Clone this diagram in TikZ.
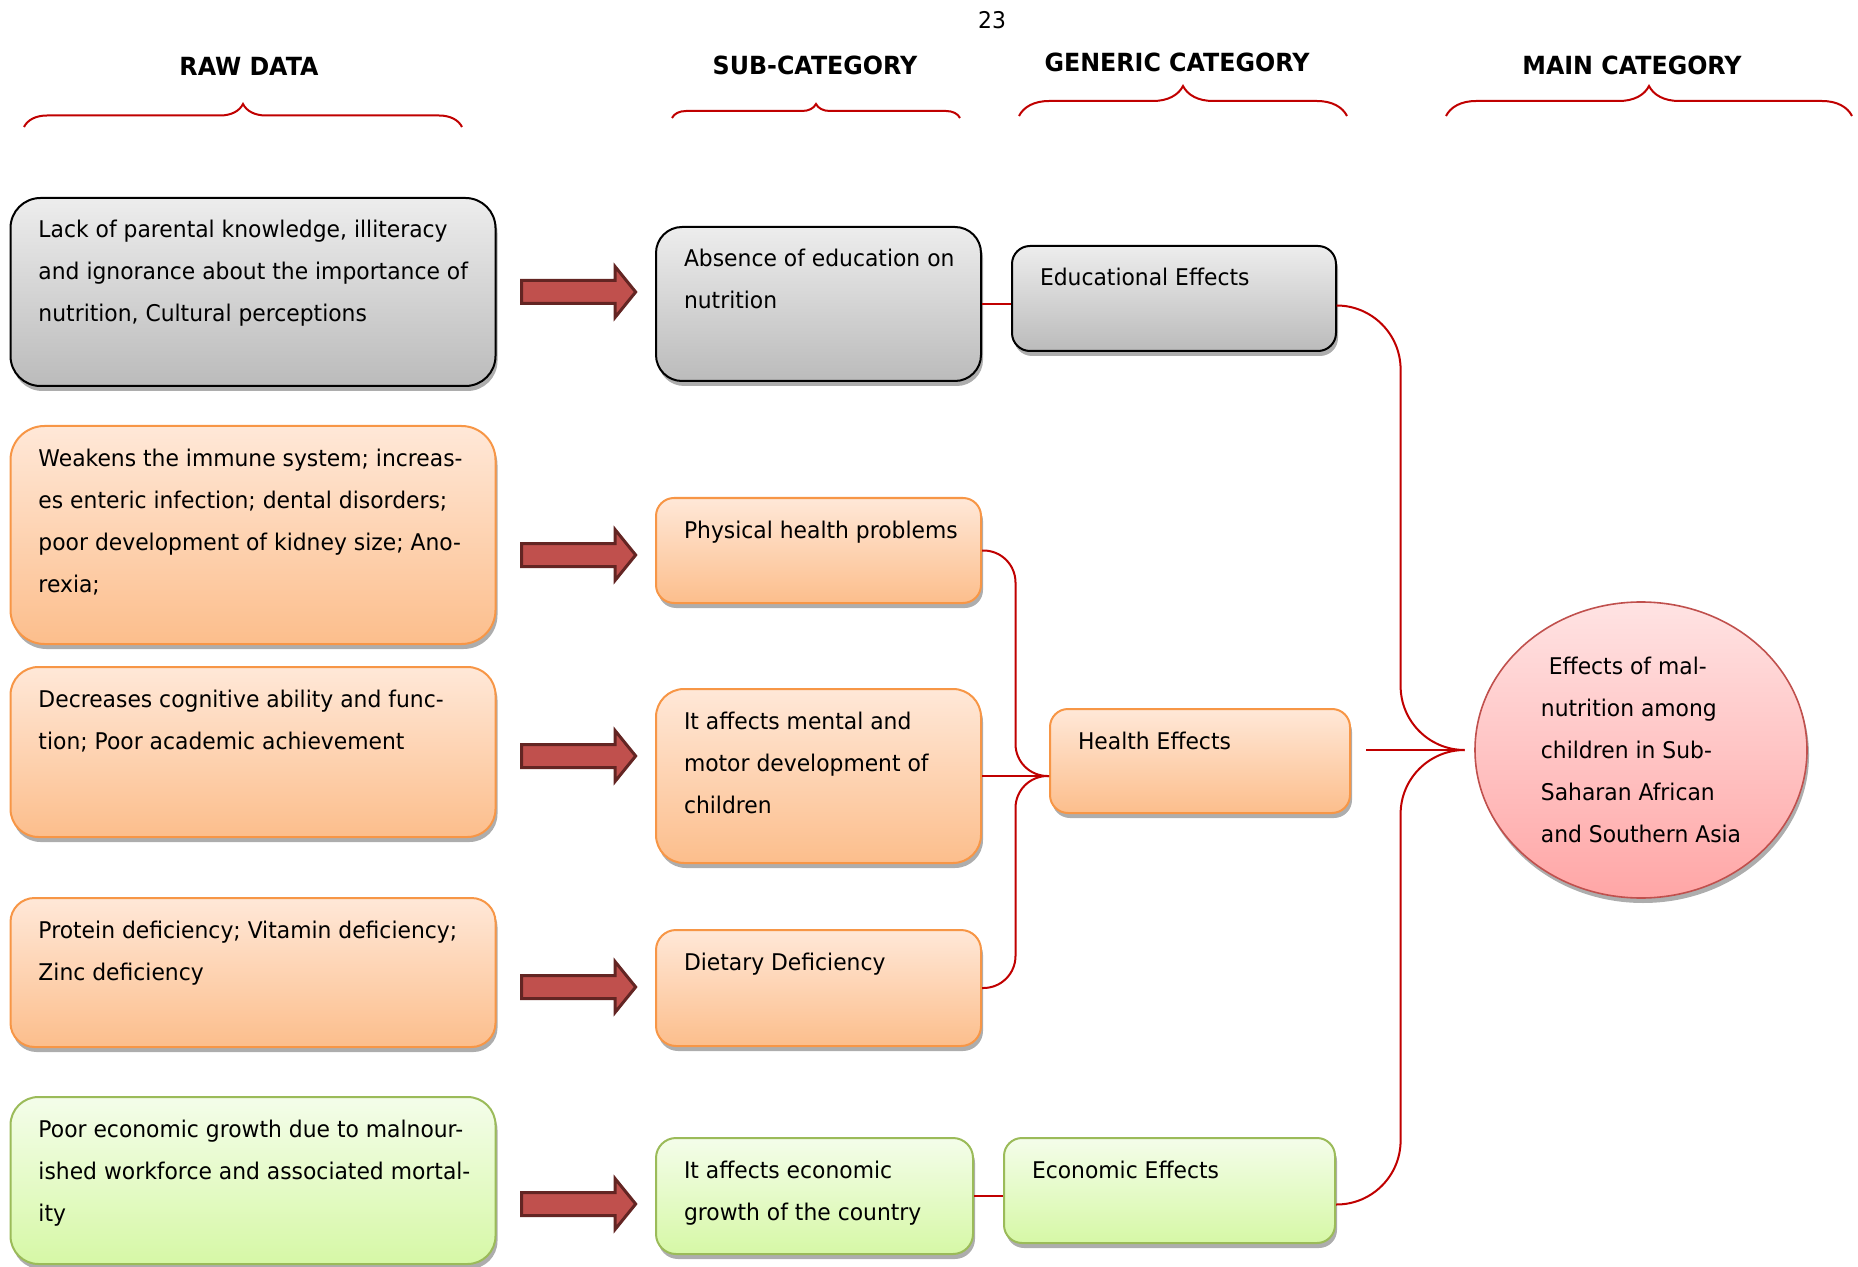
\documentclass[tikz,border=0pt]{standalone}
\usepackage{fontspec}
\setmainfont{DejaVu Sans}[FakeStretch=0.95]
\usetikzlibrary{shapes.geometric,shapes.arrows,shadows,decorations.pathreplacing,calc}

\definecolor{linkred}{HTML}{C00000}
\definecolor{arrfill}{HTML}{C0504D}
\definecolor{arrline}{HTML}{632523}
\definecolor{greytop}{HTML}{EDEDED}
\definecolor{greybot}{HTML}{BBBBBB}
\definecolor{orangeline}{HTML}{F79646}
\definecolor{orangetop}{HTML}{FFE8D8}
\definecolor{orangebot}{HTML}{FCBE8C}
\definecolor{greenline}{HTML}{9BBB59}
\definecolor{greentop}{HTML}{F4FDEA}
\definecolor{greenbot}{HTML}{D6F8A6}
\definecolor{pinkline}{HTML}{C0504D}
\definecolor{pinktop}{HTML}{FFE3E3}
\definecolor{pinkbot}{HTML}{FFA6A6}

% text block at the top left of a box: width, height, lines
\newcommand{\boxtext}[3]{\parbox[c][#2][t]{#1}{\begin{tabular}[t]{@{}l@{}}\rule{0pt}{20pt}#3\end{tabular}}}

\begin{document}
\begin{tikzpicture}[
    x = 0.5pt,
    y = -0.5pt,
    >=stealth,
    box/.style = {rectangle, anchor=north west, line width=1pt,
              inner xsep=14pt, inner ysep=0pt,
              font=\fontsize{11.5}{21}\selectfont,
              drop shadow={shadow xshift=1pt, shadow yshift=-2.5pt,
                           fill=black!40, opacity=0.8}},
    greybox/.style = {box, draw=black, top color=greytop, bottom color=greybot},
    orangebox/.style = {box, draw=orangeline, top color=orangetop, bottom color=orangebot},
    greenbox/.style = {box, draw=greenline, top color=greentop, bottom color=greenbot},
    blockarrow/.style = {single arrow, draw=arrline, fill=arrfill, line width=1.5pt,
              minimum height=57pt, minimum width=24pt, inner xsep=0pt, inner ysep=5pt,
              single arrow head extend=7pt, single arrow tip angle=102},
    link/.style = {draw=linkred, line width=1pt},
    head/.style = {font=\fontsize{12.5}{15}\selectfont\bfseries},
    ]

\useasboundingbox (0,0) rectangle (1858,1267);

% headings
\node[font=\fontsize{11.5}{14}\selectfont] (pageno) at (992,20) {23};
\node[head] (hraw) at (249,66) {RAW DATA};
\node[head] (hsub) at (815,65) {SUB-CATEGORY};
\node[head] (hgen) at (1177,62) {GENERIC CATEGORY};
\node[head] (hmain) at (1632,65) {MAIN CATEGORY};

\draw[link, decorate, decoration={brace, amplitude=11.5pt}] (24,127) -- (462,127);
\draw[link, decorate, decoration={brace, amplitude=7pt}] (672,118) -- (960,118);
\draw[link, decorate, decoration={brace, amplitude=15pt}] (1019,116) -- (1347,116);
\draw[link, decorate, decoration={brace, amplitude=15pt}] (1446,116) -- (1852,116);

% raw data
\node[greybox, rounded corners=15pt] (raw1) at (9.5,197) {\boxtext{214.5pt}{94pt}{Lack of parental knowledge, illiteracy\\and ignorance about the importance of\\nutrition, Cultural perceptions}};
\node[orangebox, rounded corners=17pt] (raw2) at (9.5,425) {\boxtext{214.5pt}{109pt}{Weakens the immune system; increas-\\es enteric infection; dental disorders;\\poor development of kidney size; Ano-\\rexia;}};
\node[orangebox, rounded corners=14pt] (raw3) at (9.5,666) {\boxtext{214.5pt}{85pt}{Decreases cognitive ability and func-\\tion; Poor academic achievement}};
\node[orangebox, rounded corners=12pt] (raw4) at (9.5,897) {\boxtext{214.5pt}{74.5pt}{Protein deficiency; Vitamin deficiency;\\Zinc deficiency}};
\node[greenbox, rounded corners=14pt] (raw5) at (9.5,1096) {\boxtext{214.5pt}{83.5pt}{Poor economic growth due to malnour-\\ished workforce and associated mortal-\\ity}};

% sub-categories
\node[greybox, rounded corners=13pt] (sub1) at (655,226) {\boxtext{134.5pt}{77pt}{Absence of education on\\nutrition}};
\node[orangebox, rounded corners=9pt] (sub2) at (655,497) {\boxtext{134.5pt}{52.5pt}{Physical health problems}};
\node[orangebox, rounded corners=14pt] (sub3) at (655,688) {\boxtext{134.5pt}{87pt}{It affects mental and\\motor development of\\children}};
\node[orangebox, rounded corners=10pt] (sub4) at (655,929) {\boxtext{134.5pt}{58pt}{Dietary Deficiency}};
\node[greenbox, rounded corners=10pt] (sub5) at (655,1137) {\boxtext{130.5pt}{58pt}{It affects economic\\growth of the country}};

% generic categories
\node[greybox, rounded corners=9pt] (gen1) at (1011,245) {\boxtext{134pt}{52.5pt}{Educational Effects}};
\node[orangebox, rounded corners=9pt] (gen2) at (1049,708) {\boxtext{122pt}{52pt}{Health Effects}};
\node[greenbox, rounded corners=9pt] (gen3) at (1003,1137) {\boxtext{137.5pt}{52.5pt}{Economic Effects}};

% main category
\node[ellipse, draw=pinkline, line width=0.8pt, top color=pinktop, bottom color=pinkbot,
      minimum width=166pt, minimum height=148pt, inner sep=0pt, align=left,
      font=\fontsize{11.5}{21}\selectfont,
      drop shadow={shadow xshift=1pt, shadow yshift=-2.5pt, fill=black!40, opacity=0.8}]
      (main) at (1641,750) {\hspace*{4pt}Effects of mal-\\nutrition among\\children in Sub-\\Saharan African\\and Southern Asia};

% block arrows
\node[blockarrow] (arr1) at (574,292) {};
\node[blockarrow] (arr2) at (574,555) {};
\node[blockarrow] (arr3) at (574,756) {};
\node[blockarrow] (arr4) at (574,987) {};
\node[blockarrow] (arr5) at (574,1204) {};

% links
\coordinate (htip) at (sub3.east -| gen2.west);
\coordinate (hmid) at ($(sub3.east)!0.5!(htip)$);
\draw[link] (sub1.east) -- (sub1.east -| gen1.west);
\draw[link, rounded corners=16pt] (sub2.east) -| (hmid) -- (htip);
\draw[link] (sub3.east) -- (htip);
\draw[link, rounded corners=16pt] (sub4.east) -| (hmid) -- (htip);
\draw[link] (sub5.east) -- (sub5.east -| gen3.west);

\coordinate (mtip) at ($(main.west)+(-10,0)$);
\coordinate (mmid) at ($(gen1.east |- mtip)!0.5!(mtip)$);
\draw[link, rounded corners=32pt] ($(gen1.east)+(0,7)$) -| (mmid) -- (mtip);
\draw[link, rounded corners=32pt] ($(gen3.east)+(0,14)$) -| (mmid) -- (mtip);
\draw[link] ($(gen2.east |- mtip)+(15,0)$) -- (mtip);

\end{tikzpicture}
\end{document}
